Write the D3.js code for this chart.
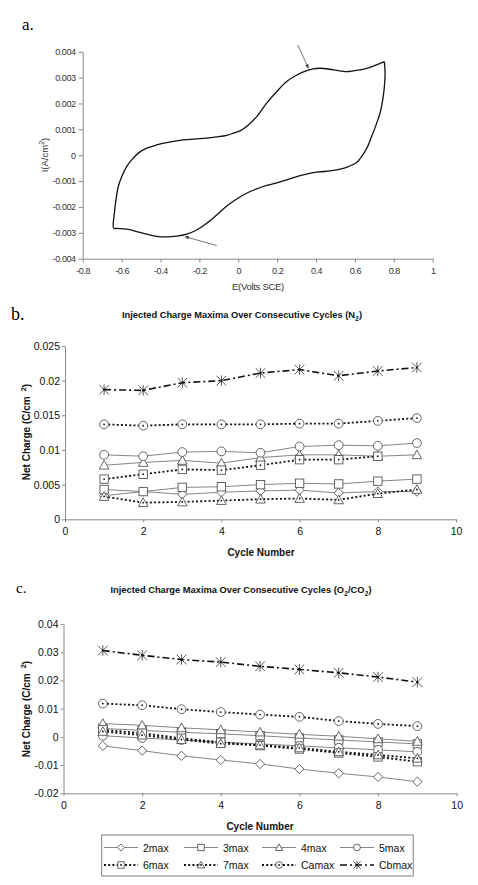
<!DOCTYPE html>
<html><head><meta charset="utf-8">
<script src="https://cdn.jsdelivr.net/npm/d3@7"></script>
<style>body{margin:0;background:#fff}svg{display:block}</style>
</head><body>
<svg id="c" width="478" height="885"></svg>
<script>
// ---------- Panel a: cyclic voltammogram ----------
const cvE = [0.7515,0.661,0.592,0.558,0.489,0.421,0.386,0.352,0.301,0.249,0.198,0.146,0.095,0.052,0.009,-0.025,-0.059,-0.111,-0.197,-0.282,-0.368,-0.419,-0.471,-0.514,-0.548,-0.574,-0.599,-0.617,-0.629,-0.637,-0.641,
  -0.625,-0.574,-0.522,-0.471,-0.419,-0.368,-0.317,-0.265,-0.214,-0.162,-0.111,-0.059,-0.008,0.043,0.095,0.146,0.198,0.249,0.318,0.386,0.455,0.524,0.566,0.609,0.635,0.661,0.686,0.712,0.729,0.743,0.7515,0.755,0.7515];
const cvI = [0.00362,0.00336,0.00326,0.00323,0.0033,0.00336,0.00334,0.00327,0.0031,0.00285,0.00246,0.00201,0.00149,0.00117,0.00094,0.00085,0.00077,0.00071,0.00064,0.00059,0.00049,0.0004,0.00027,0.00008,-0.00018,-0.00044,-0.00082,-0.00121,-0.00173,-0.00224,-0.00282,
  -0.00283,-0.00286,-0.00295,-0.00305,-0.00314,-0.00316,-0.00313,-0.00305,-0.00289,-0.00263,-0.00231,-0.00196,-0.00169,-0.00147,-0.0013,-0.00117,-0.00107,-0.00095,-0.00079,-0.00067,-0.00062,-0.00054,-0.00044,-0.00028,-0.00005,0.00027,0.00072,0.00124,0.00162,0.00214,0.00265,0.00317,0.00362];
const cvXTicks = [-0.8,-0.6,-0.4,-0.2,0,0.2,0.4,0.6,0.8,1];
const cvYTicks = [-0.004,-0.003,-0.002,-0.001,0,0.001,0.002,0.003,0.004];
const arrowFromE = [0.306,-0.111], arrowFromI = [0.00426,-0.00349];
const arrowToE = [0.361,-0.274], arrowToI = [0.00336,-0.00315];

// ---------- Panels b & c ----------
const cycles = [1,2,3,4,5,6,7,8,9];
const seriesNames = ["2max","3max","4max","5max","6max","7max","Camax","Cbmax"];
const cycleTicks = [0,2,4,6,8,10];
const n2Ticks = [0,0.005,0.01,0.015,0.02,0.025];
const co2Ticks = [-0.02,-0.01,0,0.01,0.02,0.03,0.04];

const n2_2max  = [0.0034,0.0040,0.0036,0.0039,0.0041,0.0042,0.0038,0.0040,0.0040];
const n2_3max  = [0.0043,0.0040,0.0046,0.0047,0.0050,0.0052,0.0051,0.0055,0.0058];
const n2_4max  = [0.0078,0.0082,0.0085,0.0081,0.0089,0.0093,0.0093,0.0091,0.0093];
const n2_5max  = [0.0093,0.0091,0.0097,0.0098,0.0096,0.0105,0.0107,0.0106,0.0110];
const n2_6max  = [0.0058,0.0065,0.0072,0.0071,0.0078,0.0086,0.0086,0.0091,null];
const n2_7max  = [0.0033,0.0024,0.0025,0.0027,0.0029,0.0030,0.0028,0.0037,0.0043];
const n2_Camax = [0.0137,0.0135,0.0137,0.0137,0.0137,0.0138,0.0138,0.0142,0.0146];
const n2_Cbmax = [0.0187,0.0186,0.0197,0.0200,0.0211,0.0216,0.0207,0.0214,0.0219];

const co2_2max  = [-0.0032,-0.0049,-0.0067,-0.0082,-0.0096,-0.0114,-0.0129,-0.0142,-0.0159];
const co2_3max  = [0.0030,0.0023,0.0016,0.0011,0.0004,-0.0004,-0.0011,-0.0018,-0.0025];
const co2_4max  = [0.0047,0.0041,0.0032,0.0025,0.0017,0.0009,0.0002,-0.0007,-0.0016];
const co2_5max  = [0.0004,-0.0004,-0.0011,-0.0019,-0.0025,-0.0032,-0.0039,-0.0046,-0.0053];
const co2_6max  = [0.0025,0.0013,-0.0005,-0.0019,-0.0031,-0.0043,-0.0057,-0.0071,-0.0088];
const co2_7max  = [0.0019,0.0006,-0.0010,-0.0024,-0.0029,-0.0039,-0.0053,-0.0064,-0.0076];
const co2_Camax = [0.0118,0.0112,0.0098,0.0088,0.0079,0.0071,0.0056,0.0046,0.0038];
const co2_Cbmax = [0.0306,0.0289,0.0274,0.0265,0.0250,0.0239,0.0227,0.0212,0.0194];

const n2Data  = [n2_2max,n2_3max,n2_4max,n2_5max,n2_6max,n2_7max,n2_Camax,n2_Cbmax];
const co2Data = [co2_2max,co2_3max,co2_4max,co2_5max,co2_6max,co2_7max,co2_Camax,co2_Cbmax];

// styles
const markerKind = ["diamond","square","triangle","circle","square","triangle","circle","star"];
const lineKind   = ["solid","solid","solid","solid","dot","dot","dot","dashdot"];

const svg = d3.select("#c");
svg.append("rect").attr("width",478).attr("height",885).attr("fill","#fff");
const SANS = "'Liberation Sans', Arial, sans-serif";
const SERIF = "'Liberation Serif', 'Times New Roman', serif";

// ===== Panel a =====
const xA = d3.scaleLinear().domain([-0.8,1]).range([82.7,432.7]);
const yA = d3.scaleLinear().domain([-0.004,0.004]).range([258.7,51.7]);
const fmt = d => d===0 ? "0" : String(+d.toFixed(3));
const gA = svg.append("g");
const axA_y = gA.append("g").attr("transform","translate(82.7,0)")
  .call(d3.axisLeft(yA).tickValues(cvYTicks).tickSize(4).tickSizeOuter(0).tickPadding(3).tickFormat(fmt));
const axA_x = gA.append("g").attr("transform","translate(0,258.7)")
  .call(d3.axisBottom(xA).tickValues(cvXTicks).tickSize(4).tickSizeOuter(0).tickPadding(5).tickFormat(fmt));
[axA_y,axA_x].forEach(a=>{
  a.selectAll("path,line").attr("stroke","#8a8a8a");
  a.selectAll("text").attr("font-family",SANS).attr("font-size",9).attr("fill","#333").attr("letter-spacing","-0.4");
});
gA.append("text").attr("x",258).attr("y",289.5).attr("text-anchor","middle")
  .attr("font-family",SANS).attr("font-size",9.5).attr("fill","#333").attr("letter-spacing","-0.3").text("E(Volts SCE)");
const ylabA = gA.append("text").attr("transform","translate(48,155) rotate(-90)").attr("text-anchor","middle")
  .attr("font-family",SANS).attr("font-size",9.5).attr("fill","#333");
ylabA.append("tspan").text("I(A/cm");
ylabA.append("tspan").attr("dy",-4).attr("font-size",7).text("2");
ylabA.append("tspan").attr("dy",4).text(")");
const cvPts = cvE.map((e,i)=>[e,cvI[i]]);
gA.append("path").attr("d", d3.line().x(d=>xA(d[0])).y(d=>yA(d[1])).curve(d3.curveCatmullRom.alpha(0.5))(cvPts))
  .attr("fill","none").attr("stroke","#111").attr("stroke-width",1.3);
// arrows
const defs = svg.append("defs");
defs.append("marker").attr("id","ah").attr("viewBox","0 0 10 10").attr("refX",9).attr("refY",5)
  .attr("markerWidth",5).attr("markerHeight",5).attr("orient","auto")
  .append("path").attr("d","M0,1 L10,5 L0,9 Z").attr("fill","#444");
arrowFromE.forEach((e,i)=>{
  gA.append("line").attr("x1",xA(e)).attr("y1",yA(arrowFromI[i])).attr("x2",xA(arrowToE[i])).attr("y2",yA(arrowToI[i]))
    .attr("stroke","#666").attr("stroke-width",0.9).attr("marker-end","url(#ah)");
});
svg.append("text").attr("x",22).attr("y",30).attr("font-family",SERIF).attr("font-size",17).text("a.");

// ===== marker drawing =====
function drawMarker(g, kind, cx, cy, s, dotted){
  const st = "#555";
  if(kind==="diamond"){
    g.append("path").attr("d",`M${cx},${cy-s*1.1}L${cx+s*1.1},${cy}L${cx},${cy+s*1.1}L${cx-s*1.1},${cy}Z`).attr("fill","#fff").attr("stroke",st).attr("stroke-width",0.9);
  } else if(kind==="square"){
    g.append("rect").attr("x",cx-s).attr("y",cy-s).attr("width",2*s).attr("height",2*s).attr("fill","#fff").attr("stroke",st).attr("stroke-width",0.9);
  } else if(kind==="triangle"){
    const h=s*1.15;
    g.append("path").attr("d",`M${cx},${cy-h}L${cx+h},${cy+h*0.8}L${cx-h},${cy+h*0.8}Z`).attr("fill","#fff").attr("stroke",st).attr("stroke-width",0.9);
  } else if(kind==="circle"){
    g.append("circle").attr("cx",cx).attr("cy",cy).attr("r",s*1.05).attr("fill","#fff").attr("stroke",st).attr("stroke-width",0.9);
  } else if(kind==="star"){
    const r=s*1.15;
    g.append("path").attr("d",`M${cx-r},${cy-r}L${cx+r},${cy+r}M${cx-r},${cy+r}L${cx+r},${cy-r}M${cx},${cy-r*1.1}L${cx},${cy+r*1.1}`)
      .attr("stroke","#444").attr("stroke-width",0.9).attr("fill","none");
    g.append("circle").attr("cx",cx).attr("cy",cy).attr("r",1.1).attr("fill","#111");
  }
  if(dotted && kind!=="star") g.append("circle").attr("cx",cx).attr("cy",cy).attr("r",0.9).attr("fill","#111");
}
function lineStyle(sel, kind){
  if(kind==="solid") sel.attr("stroke","#858585").attr("stroke-width",1);
  else if(kind==="dot") sel.attr("stroke","#111").attr("stroke-width",1.8).attr("stroke-dasharray","2,2.2");
  else sel.attr("stroke","#111").attr("stroke-width",1.6).attr("stroke-dasharray","7,3,2,3");
  return sel;
}

// ===== Panels b & c =====
function panel(opts){
  const x = d3.scaleLinear().domain([0,10]).range(opts.xr);
  const y = d3.scaleLinear().domain(opts.yd).range(opts.yr);
  const g = svg.append("g");
  const ay = g.append("g").attr("transform",`translate(${opts.xr[0]},0)`)
    .call(d3.axisLeft(y).tickValues(opts.yt).tickSize(3).tickSizeOuter(0).tickPadding(2).tickFormat(fmt));
  const ax = g.append("g").attr("transform",`translate(0,${opts.yr[0]})`)
    .call(d3.axisBottom(x).tickValues(cycleTicks).tickSize(3).tickSizeOuter(0).tickPadding(5).tickFormat(d3.format("d")));
  [ay,ax].forEach(a=>{
    a.selectAll("path,line").attr("stroke","#8a8a8a");
    a.selectAll("text").attr("font-family",SANS).attr("font-size",10.5).attr("fill","#111");
  });
  // title
  const t = g.append("text").attr("x",opts.titleX).attr("y",opts.titleY).attr("text-anchor","middle")
    .attr("font-family",SANS).attr("font-size",9.3).attr("font-weight","bold").attr("fill","#111");
  opts.title(t);
  g.append("text").attr("x",opts.xlabX).attr("y",opts.xlabY).attr("text-anchor","middle")
    .attr("font-family",SANS).attr("font-size",10).attr("font-weight","bold").attr("fill","#111").text("Cycle Number");
  const yl = g.append("text").attr("transform",`translate(${opts.ylabX},${opts.ylabY}) rotate(-90)`).attr("text-anchor","middle")
    .attr("font-family",SANS).attr("font-size",10).attr("font-weight","bold").attr("fill","#111");
  yl.append("tspan").text("Net Charge (C/cm");
  yl.append("tspan").attr("dx",5).attr("dy",-4).attr("font-size",7.5).text("2");
  yl.append("tspan").attr("dy",4).text(")");
  svg.append("text").attr("x",opts.letterX).attr("y",opts.letterY).attr("font-family",SERIF).attr("font-size",opts.letterSize).text(opts.letter);
  const line = d3.line().defined(d=>d[1]!=null).x(d=>x(d[0])).y(d=>y(d[1]));
  opts.data.forEach((vals,si)=>{
    const pts = cycles.map((c,i)=>[c,vals[i]]);
    lineStyle(g.append("path").attr("d",line(pts)).attr("fill","none"), lineKind[si]);
  });
  opts.data.forEach((vals,si)=>{
    const mg = g.append("g");
    cycles.forEach((c,i)=>{ if(vals[i]!=null) drawMarker(mg, markerKind[si], x(c), y(vals[i]), 4.2, lineKind[si]!=="solid"); });
  });
}

panel({xr:[65,456], yd:[0,0.025], yr:[519.3,346], yt:n2Ticks, data:n2Data,
  titleX:242, titleY:318, xlabX:261, xlabY:556, ylabX:30, ylabY:432,
  letter:"b.", letterX:11, letterY:320, letterSize:18,
  title:t=>{ t.append("tspan").text("Injected Charge Maxima Over Consecutive Cycles (N");
             t.append("tspan").attr("dx",0.3).attr("dy",3).attr("font-size",6.5).text("2");
             t.append("tspan").attr("dy",-3).text(")"); }});

panel({xr:[63.5,456.7], yd:[-0.02,0.04], yr:[793.3,624], yt:co2Ticks, data:co2Data,
  titleX:241, titleY:593, xlabX:260, xlabY:830, ylabX:30, ylabY:709,
  letter:"c.", letterX:16, letterY:593, letterSize:15,
  title:t=>{ t.append("tspan").text("Injected Charge Maxima Over Consecutive Cycles (O");
             t.append("tspan").attr("dx",0.3).attr("dy",3).attr("font-size",6.5).text("2");
             t.append("tspan").attr("dy",-3).text("/CO");
             t.append("tspan").attr("dx",0.3).attr("dy",3).attr("font-size",6.5).text("2");
             t.append("tspan").attr("dy",-3).text(")"); }});

// ===== Legend =====
const lg = svg.append("g");
lg.append("rect").attr("x",101.7).attr("y",835).attr("width",311.5).attr("height",41).attr("fill","#fff").attr("stroke","#808080").attr("stroke-width",1);
const colX = [104,184,262,340];
const rowY = [847.5,865];
seriesNames.forEach((nm,i)=>{
  const cx = colX[i%4], cy = rowY[Math.floor(i/4)];
  lineStyle(lg.append("line").attr("x1",cx).attr("x2",cx+34).attr("y1",cy).attr("y2",cy), lineKind[i]);
  drawMarker(lg, markerKind[i], cx+17, cy, 3.2, lineKind[i]!=="solid");
  lg.append("text").attr("x",cx+39).attr("y",cy+4).attr("font-family",SANS).attr("font-size",10.5).attr("fill","#111").text(nm);
});
</script>
</body></html>
